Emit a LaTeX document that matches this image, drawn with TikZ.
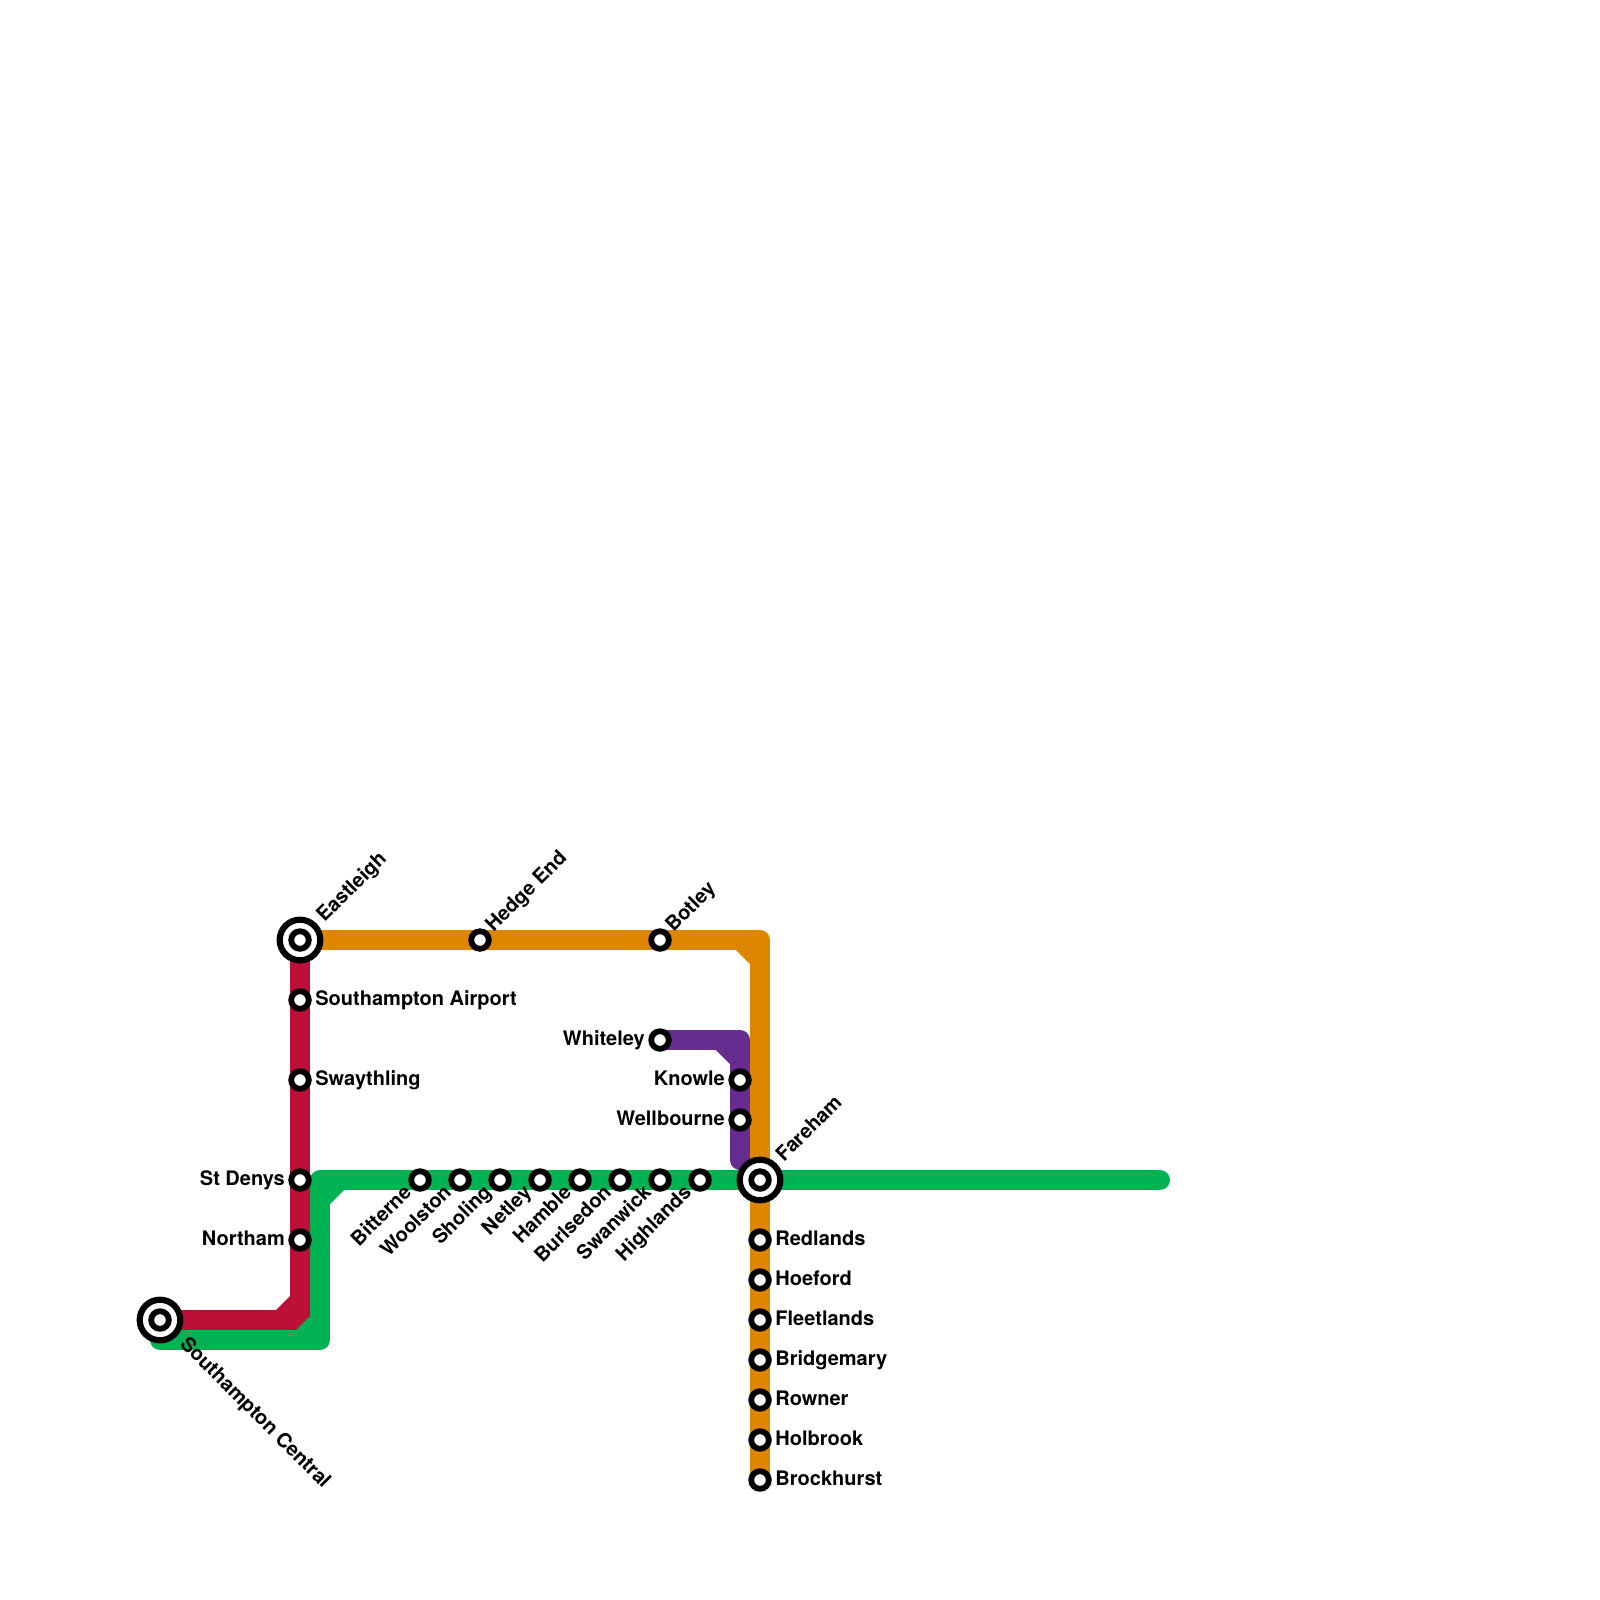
\documentclass[tikz,border=0pt]{standalone}
\usepackage{fontspec}
\setmainfont{TeX Gyre Heros}
\usetikzlibrary{backgrounds}
\definecolor{lred}{HTML}{BD1038}
\definecolor{lorange}{HTML}{DF8600}
\definecolor{lgreen}{HTML}{00B251}
\definecolor{lpurple}{HTML}{662C90}
\tikzset{
  metro/.style={line width=20pt,line join=round,line cap=round},
  stn/.style={circle,draw=black,fill=white,line width=5.8pt,minimum size=17.6pt,inner sep=0pt,outer sep=0pt},
  hub/.style={circle,draw=black,fill=white,line width=6.2pt,minimum size=40.6pt,inner sep=0pt,outer sep=0pt},
  lab/.style={font=\bfseries\fontsize{20}{20}\selectfont,inner sep=0pt,text=black},
  lr/.style={lab,anchor=base west,xshift=15.2pt,yshift=-5.4pt},
  ll/.style={lab,anchor=base east,xshift=-15pt,yshift=-5.4pt},
  lne/.style={lab,anchor=base west,rotate=45},
  lsw/.style={lab,anchor=base east,rotate=45},
  lse/.style={lab,anchor=base west,rotate=-45},
}
\begin{document}
\begin{tikzpicture}[x=1pt,y=-1pt]
\useasboundingbox (0,0) rectangle (1600,1600);
% turning points and free ends
\coordinate (rc) at (300,1320);
\coordinate (gs) at (160,1340);
\coordinate (gc1) at (320,1340);
\coordinate (gc2) at (320,1180);
\coordinate (ge) at (1160,1180);
\coordinate (oc) at (760,940);
\coordinate (pc) at (740,1040);
\coordinate (pe) at (740,1160);
% stations
\node[hub] (eastleigh) at (300,940) {};
\node[stn] (eastleighi) at (eastleigh) {};
\node[hub] (central) at (160,1320) {};
\node[stn] (centrali) at (central) {};
\node[hub] (fareham) at (760,1180) {};
\node[stn] (farehami) at (fareham) {};
\node[stn] (airport) at (300,1000) {};
\node[stn] (swaythling) at (300,1080) {};
\node[stn] (stdenys) at (300,1180) {};
\node[stn] (northam) at (300,1240) {};
\node[stn] (hedgeend) at (480,940) {};
\node[stn] (botley) at (660,940) {};
\node[stn] (whiteley) at (660,1040) {};
\node[stn] (knowle) at (740,1080) {};
\node[stn] (wellbourne) at (740,1120) {};
\node[stn] (bitterne) at (420,1180) {};
\node[stn] (woolston) at (460,1180) {};
\node[stn] (sholing) at (500,1180) {};
\node[stn] (netley) at (540,1180) {};
\node[stn] (hamble) at (580,1180) {};
\node[stn] (burlsedon) at (620,1180) {};
\node[stn] (swanwick) at (660,1180) {};
\node[stn] (highlands) at (700,1180) {};
\node[stn] (redlands) at (760,1240) {};
\node[stn] (hoeford) at (760,1280) {};
\node[stn] (fleetlands) at (760,1320) {};
\node[stn] (bridgemary) at (760,1360) {};
\node[stn] (rowner) at (760,1400) {};
\node[stn] (holbrook) at (760,1440) {};
\node[stn] (brockhurst) at (760,1480) {};
% lines
\begin{scope}[on background layer]
\draw[metro,lred] (central.center) -- (rc) -- (eastleigh.center);
\fill[lred] (290,1310) -- (276,1310) -- (290,1296) -- cycle;
\draw[metro,lgreen] (gs) -- (gc1) -- (gc2) -- (ge);
\fill[lgreen] (310,1330) -- (296,1330) -- (310,1316) -- cycle;
\fill[lgreen] (330,1190) -- (344,1190) -- (330,1204) -- cycle;
\draw[metro,lorange] (eastleigh.center) -- (oc) -- (brockhurst.center);
\fill[lorange] (750,950) -- (736,950) -- (750,964) -- cycle;
\draw[metro,lpurple] (whiteley.center) -- (pc) -- (pe);
\fill[lpurple] (730,1050) -- (716,1050) -- (730,1064) -- cycle;
\end{scope}
% labels
\node[lr] (t1) at (airport) {Southampton Airport};
\node[lr] (t2) at (swaythling) {Swaythling};
\node[ll] (t3) at (stdenys) {St Denys};
\node[ll] (t4) at (northam) {Northam};
\node[ll] (t5) at (whiteley) {Whiteley};
\node[ll] (t6) at (knowle) {Knowle};
\node[ll] (t7) at (wellbourne) {Wellbourne};
\node[lr] (t8) at (redlands) {Redlands};
\node[lr] (t9) at (hoeford) {Hoeford};
\node[lr] (t10) at (fleetlands) {Fleetlands};
\node[lr] (t11) at (bridgemary) {Bridgemary};
\node[lr] (t12) at (rowner) {Rowner};
\node[lr] (t13) at (holbrook) {Holbrook};
\node[lr] (t14) at (brockhurst) {Brockhurst};
\node[lne] (t15) at ([shift={(24.5,-17)}]eastleigh.center) {Eastleigh};
\node[lne] (t16) at ([shift={(13.5,-7)}]hedgeend.center) {Hedge End};
\node[lne] (t17) at ([shift={(13.5,-7)}]botley.center) {Botley};
\node[lne] (t18) at ([shift={(24,-17.5)}]fareham.center) {Fareham};
\node[lse] (t19) at ([shift={(19,25)}]central.center) {Southampton Central};
\node[lsw] (t20) at ([shift={(-7.5,13.5)}]bitterne.center) {Bitterne};
\node[lsw] (t21) at ([shift={(-7.5,13.5)}]woolston.center) {Woolston};
\node[lsw] (t22) at ([shift={(-7.5,13.5)}]sholing.center) {Sholing};
\node[lsw] (t23) at ([shift={(-7.5,13.5)}]netley.center) {Netley};
\node[lsw] (t24) at ([shift={(-7.5,13.5)}]hamble.center) {Hamble};
\node[lsw] (t25) at ([shift={(-7.5,13.5)}]burlsedon.center) {Burlsedon};
\node[lsw] (t26) at ([shift={(-7.5,13.5)}]swanwick.center) {Swanwick};
\node[lsw] (t27) at ([shift={(-7.5,13.5)}]highlands.center) {Highlands};
\end{tikzpicture}
\end{document}
